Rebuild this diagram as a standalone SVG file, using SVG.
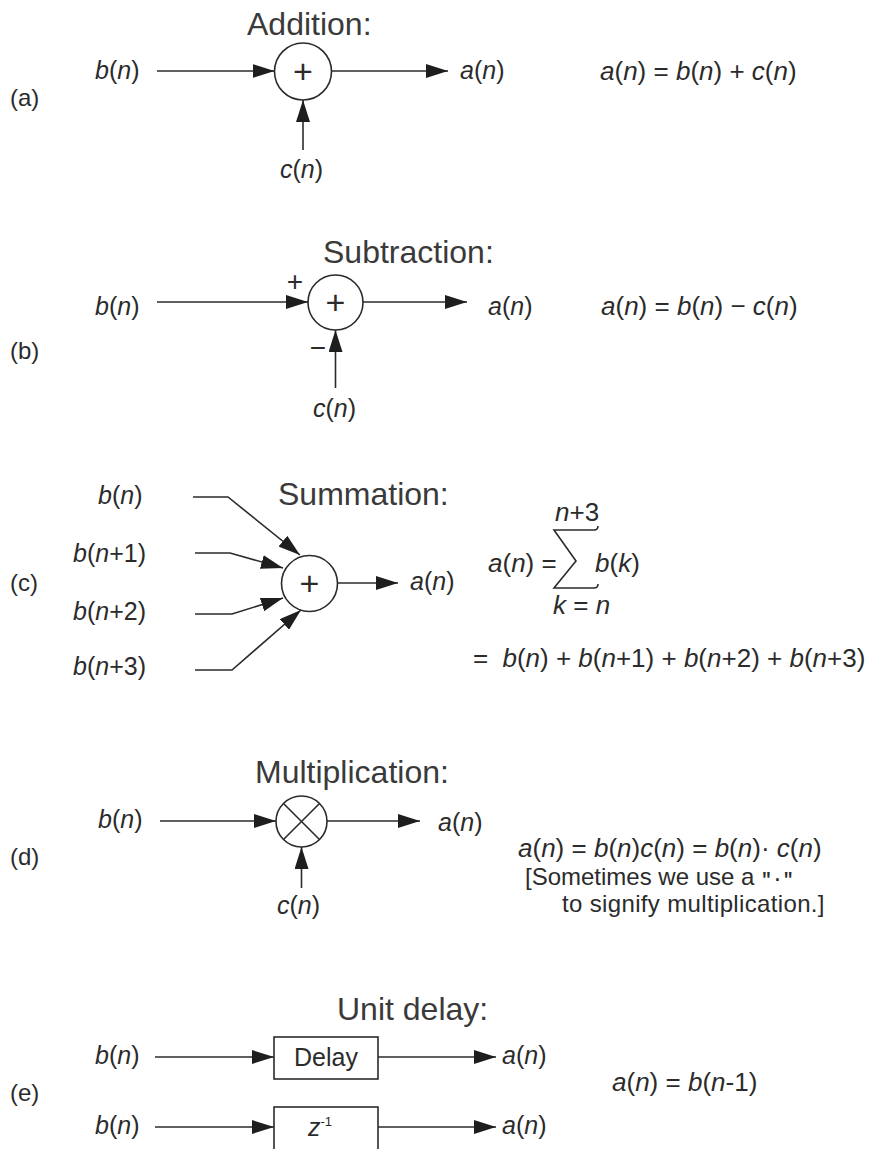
<svg xmlns="http://www.w3.org/2000/svg" width="881" height="1149" viewBox="0 0 881 1149">
<style>
text{font-family:"Liberation Sans",Arial,sans-serif;fill:#2b2b2b}
.ttl{font-size:32px;fill:#3a3a3a}
.lb{font-size:25px}
.eq{font-size:26px}
.note{font-size:24px}
.tag{font-size:24px}
.i{font-style:italic}
.pl{font-size:34px;text-anchor:middle}
.wire{fill:none;stroke:#2b2b2b;stroke-width:1.6;marker-end:url(#ah)}
.node{fill:#fff;stroke:#2b2b2b;stroke-width:1.6}
.sig{fill:none;stroke:#2b2b2b;stroke-width:1.6}
</style>
<defs>
<marker id="ah" markerUnits="userSpaceOnUse" markerWidth="22" markerHeight="14" refX="22" refY="7" orient="auto"><path d="M0,0 L22,7 L0,14 z" fill="#1e1e1e"/></marker>
</defs>
<rect width="881" height="1149" fill="#fff"/>

<g id="connectors">
<!-- (a) -->
<polyline class="wire" points="157,71 274.5,71"/>
<polyline class="wire" points="331.5,71 448,71"/>
<polyline class="wire" points="303,150 303,100"/>
<!-- (b) -->
<polyline class="wire" points="157,302 308,302"/>
<polyline class="wire" points="363,302 467,302"/>
<polyline class="wire" points="335.5,388 335.5,330"/>
<!-- (c) -->
<polyline class="wire" points="193,497 228,497 300,555"/>
<polyline class="wire" points="195,553 230,553 283,568"/>
<polyline class="wire" points="195,614 232,614 283,598"/>
<polyline class="wire" points="195,670 232,670 301,610"/>
<polyline class="wire" points="337.5,583 398,583"/>
<!-- (d) -->
<polyline class="wire" points="160,821 276,821"/>
<polyline class="wire" points="327,821 420,821"/>
<polyline class="wire" points="301.5,888 301.5,847"/>
<!-- (e) -->
<polyline class="wire" points="155,1057 274,1057"/>
<polyline class="wire" points="378,1057 496,1057"/>
<polyline class="wire" points="155,1127 274,1127"/>
<polyline class="wire" points="378,1127 496,1127"/>
</g>

<g id="section-a">
<text class="ttl" x="247" y="35">Addition:</text>
<text class="tag" x="10" y="106">(a)</text>
<g id="adder-a">
<circle class="node" cx="303" cy="71.5" r="28.5"/>
<text class="pl" x="303" y="83">+</text>
</g>
<text class="lb" x="95" y="79"><tspan class="i">b</tspan>(<tspan class="i">n</tspan>)</text>
<text class="lb" x="460" y="79"><tspan class="i">a</tspan>(<tspan class="i">n</tspan>)</text>
<text class="lb" x="280" y="178"><tspan class="i">c</tspan>(<tspan class="i">n</tspan>)</text>
<text class="eq" x="600" y="80"><tspan class="i">a</tspan>(<tspan class="i">n</tspan>) = <tspan class="i">b</tspan>(<tspan class="i">n</tspan>) + <tspan class="i">c</tspan>(<tspan class="i">n</tspan>)</text>
</g>

<g id="section-b">
<text class="ttl" x="323" y="263">Subtraction:</text>
<text class="tag" x="10" y="359">(b)</text>
<g id="adder-b">
<circle class="node" cx="335.5" cy="302.5" r="27.5"/>
<text class="pl" x="335.5" y="314">+</text>
</g>
<text x="295" y="291" text-anchor="middle" style="font-size:28px">+</text>
<text x="318" y="357" text-anchor="middle" style="font-size:28px">−</text>
<text class="lb" x="95" y="315"><tspan class="i">b</tspan>(<tspan class="i">n</tspan>)</text>
<text class="lb" x="488" y="315"><tspan class="i">a</tspan>(<tspan class="i">n</tspan>)</text>
<text class="lb" x="313" y="417"><tspan class="i">c</tspan>(<tspan class="i">n</tspan>)</text>
<text class="eq" x="601" y="315"><tspan class="i">a</tspan>(<tspan class="i">n</tspan>) = <tspan class="i">b</tspan>(<tspan class="i">n</tspan>) − <tspan class="i">c</tspan>(<tspan class="i">n</tspan>)</text>
</g>

<g id="section-c">
<text class="ttl" x="278" y="505">Summation:</text>
<text class="tag" x="10" y="591">(c)</text>
<g id="adder-c">
<circle class="node" cx="309.5" cy="583.5" r="28"/>
<text class="pl" x="309.5" y="595">+</text>
</g>
<text class="lb" x="98" y="504"><tspan class="i">b</tspan>(<tspan class="i">n</tspan>)</text>
<text class="lb" x="73" y="562"><tspan class="i">b</tspan>(<tspan class="i">n</tspan>+1)</text>
<text class="lb" x="73" y="620"><tspan class="i">b</tspan>(<tspan class="i">n</tspan>+2)</text>
<text class="lb" x="73" y="675"><tspan class="i">b</tspan>(<tspan class="i">n</tspan>+3)</text>
<text class="lb" x="410" y="590"><tspan class="i">a</tspan>(<tspan class="i">n</tspan>)</text>
<text class="eq" x="488" y="572"><tspan class="i">a</tspan>(<tspan class="i">n</tspan>) =</text>
<path class="sig" d="M598,526 Q598,530 594,530 L554,530 L576,561 L554,588 L594,588 Q598,588 598,584"/>
<text class="eq" x="555" y="521"><tspan class="i">n</tspan>+3</text>
<text class="eq" x="595" y="572"><tspan class="i">b</tspan>(<tspan class="i">k</tspan>)</text>
<text class="eq" x="553" y="614"><tspan class="i">k</tspan> = <tspan class="i">n</tspan></text>
<text class="eq" x="473" y="667">= <tspan dx="7" class="i">b</tspan>(<tspan class="i">n</tspan>) + <tspan class="i">b</tspan>(<tspan class="i">n</tspan>+1) + <tspan class="i">b</tspan>(<tspan class="i">n</tspan>+2) + <tspan class="i">b</tspan>(<tspan class="i">n</tspan>+3)</text>
</g>

<g id="section-d">
<text class="ttl" x="255" y="783">Multiplication:</text>
<text class="tag" x="10" y="865">(d)</text>
<g id="multiplier-d">
<circle class="node" cx="301.5" cy="821.5" r="25.5"/>
<path class="sig" d="M283.5,803.5 L319.5,839.5 M319.5,803.5 L283.5,839.5"/>
</g>
<text class="lb" x="98" y="828"><tspan class="i">b</tspan>(<tspan class="i">n</tspan>)</text>
<text class="lb" x="438" y="831"><tspan class="i">a</tspan>(<tspan class="i">n</tspan>)</text>
<text class="lb" x="277" y="914"><tspan class="i">c</tspan>(<tspan class="i">n</tspan>)</text>
<text class="eq" x="518" y="857"><tspan class="i">a</tspan>(<tspan class="i">n</tspan>) = <tspan class="i">b</tspan>(<tspan class="i">n</tspan>)<tspan class="i">c</tspan>(<tspan class="i">n</tspan>) = <tspan class="i">b</tspan>(<tspan class="i">n</tspan>)· <tspan class="i">c</tspan>(<tspan class="i">n</tspan>)</text>
<text class="note" x="525" y="885">[Sometimes we use a <tspan style="font-family:'Liberation Mono',monospace;font-weight:bold;font-size:18px">"·"</tspan></text>
<text class="note" x="562" y="912" style="letter-spacing:0.35px">to signify multiplication.]</text>
</g>

<g id="section-e">
<text class="ttl" x="337" y="1020">Unit delay:</text>
<text class="tag" x="10" y="1101">(e)</text>
<g id="delay-box">
<rect class="node" x="274" y="1037" width="104" height="42"/>
<text class="lb" x="326" y="1066" text-anchor="middle">Delay</text>
</g>
<g id="z-box">
<rect class="node" x="274" y="1107" width="104" height="60"/>
<text class="lb" x="308" y="1136"><tspan class="i">z</tspan><tspan style="font-size:13px" dy="-10">-1</tspan></text>
</g>
<text class="lb" x="95" y="1064"><tspan class="i">b</tspan>(<tspan class="i">n</tspan>)</text>
<text class="lb" x="502" y="1064"><tspan class="i">a</tspan>(<tspan class="i">n</tspan>)</text>
<text class="lb" x="95" y="1134"><tspan class="i">b</tspan>(<tspan class="i">n</tspan>)</text>
<text class="lb" x="502" y="1134"><tspan class="i">a</tspan>(<tspan class="i">n</tspan>)</text>
<text class="eq" x="612" y="1091"><tspan class="i">a</tspan>(<tspan class="i">n</tspan>) = <tspan class="i">b</tspan>(<tspan class="i">n</tspan>-1)</text>
</g>
</svg>
